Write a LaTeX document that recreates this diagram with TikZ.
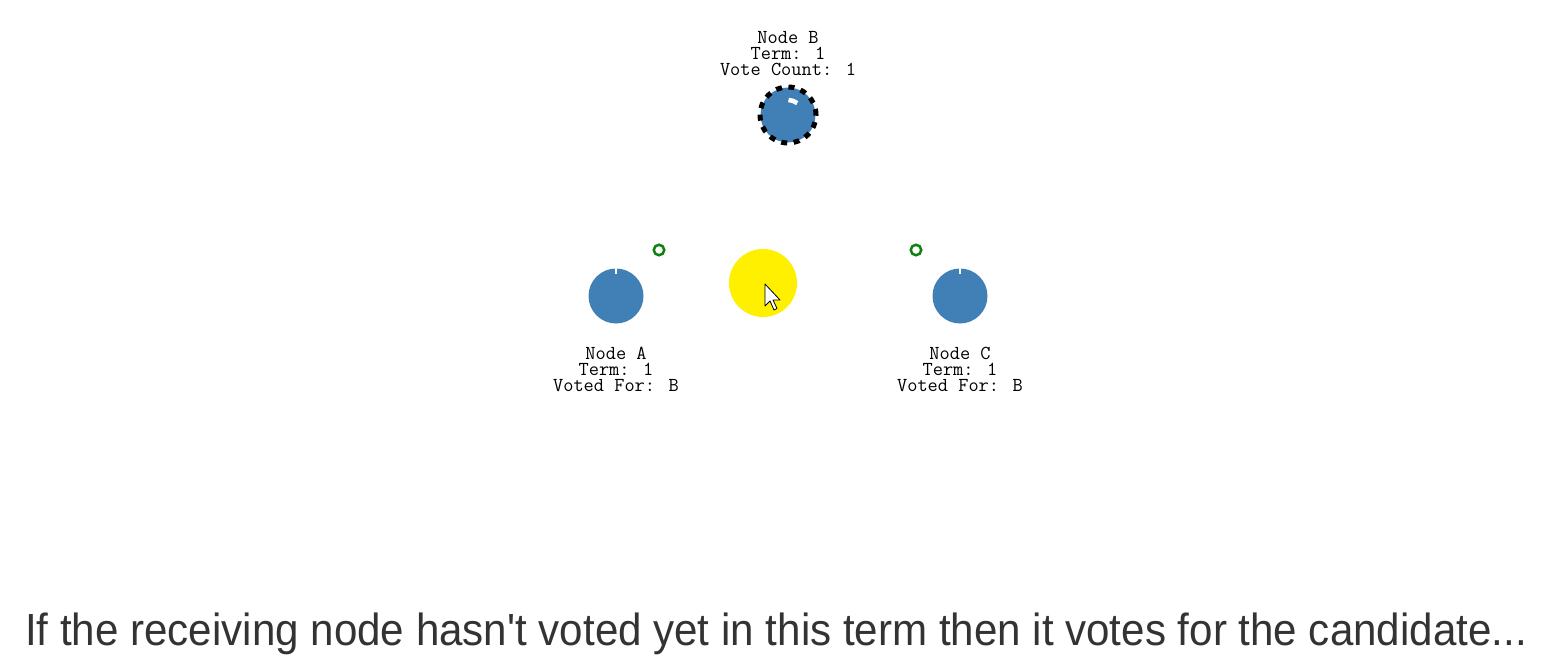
\documentclass[tikz,border=0pt]{standalone}
\usepackage{fontspec}
\setmainfont{Liberation Sans}
\definecolor{nodeblue}{RGB}{65,127,183}
\definecolor{votegreen}{RGB}{16,128,16}
\definecolor{capgray}{RGB}{51,51,51}
\definecolor{hiyellow}{RGB}{255,240,0}
\begin{document}
\begin{tikzpicture}[x=1pt,y=-1pt,
  raftnode/.style={circle,fill=nodeblue,minimum size=55pt,inner sep=0pt},
  nodelabel/.style={font=\ttfamily\fontsize{19.8}{16}\selectfont,align=center,inner sep=0pt,text=black},
  votedot/.style={circle,draw=votegreen,line width=2.5pt,minimum size=10.5pt,inner sep=0pt,fill=white},
  caption/.style={font=\fontsize{45}{50}\selectfont,text=capgray,inner sep=0pt}]
\useasboundingbox (0,0) rectangle (1546,658);
% Node B
\node[raftnode] (B) at (788,115) {};
\draw[line width=5pt,dash pattern=on 6pt off 6.5pt] (B.center) circle[radius=28pt];
\draw[white,line width=4.5pt] ([shift={(88:15pt)}]B.center) arc[start angle=88,end angle=52,radius=15pt];
\node[nodelabel] (Blab) at (788,54) {Node B\\Term: 1\\Vote Count: 1};
% Node A
\node[raftnode] (A) at (616,296) {};
\draw[white,line width=2pt] (A.north) -- ++(0,6);
\node[nodelabel] (Alab) at (616,369) {Node A\\Term: 1\\Voted For: B};
% Node C
\node[raftnode] (C) at (960,296) {};
\draw[white,line width=2pt] (C.north) -- ++(0,6);
\node[nodelabel] (Clab) at (960,369) {Node C\\Term: 1\\Voted For: B};
% vote messages
\node[votedot] (va) at (659,250) {};
\node[votedot] (vc) at (916,250) {};
% highlight and cursor
\node[circle,fill=hiyellow,minimum size=68pt,inner sep=0pt] (hl) at (763,283) {};
\coordinate (tip) at (765,284);
\draw[black,fill=white,line width=0.8pt,line join=round] (tip) -- ++(0,22) -- ++(5,-5) -- ++(4,9) -- ++(3,-1.5) -- ++(-4,-8.5) -- ++(7,0) -- cycle;
% caption
\node[caption,anchor=base] (cap) at (776,645) {\scalebox{0.936}[1]{If the receiving node hasn\textquotesingle t voted yet in this term then it votes for the candidate...}};
\end{tikzpicture}
\end{document}
